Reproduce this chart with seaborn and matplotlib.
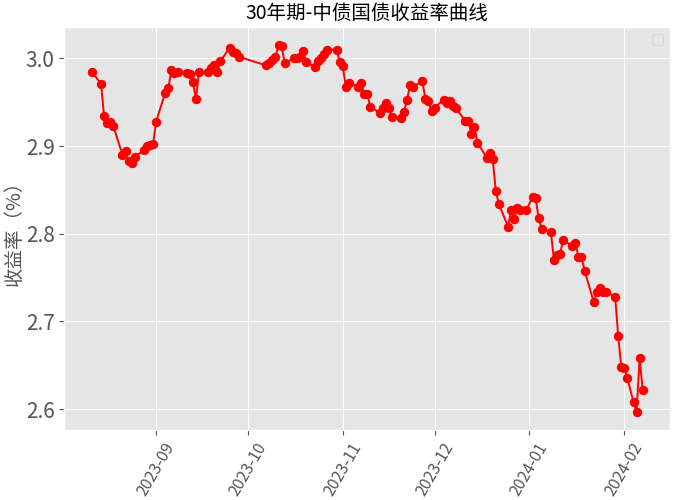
import pandas as pd
import matplotlib
matplotlib.use('Agg')
import matplotlib.pyplot as plt
import matplotlib.dates as mdates
import seaborn as sns

# 30年期国债收益率
dates = [
    '2023-08-11', '2023-08-14', '2023-08-15', '2023-08-16', '2023-08-17', '2023-08-18',
    '2023-08-21', '2023-08-22', '2023-08-23', '2023-08-24', '2023-08-25',
    '2023-08-28', '2023-08-29', '2023-08-30', '2023-08-31', '2023-09-01',
    '2023-09-04', '2023-09-05', '2023-09-06', '2023-09-07', '2023-09-08',
    '2023-09-11', '2023-09-12', '2023-09-13', '2023-09-14', '2023-09-15',
    '2023-09-18', '2023-09-19', '2023-09-20', '2023-09-21', '2023-09-22',
    '2023-09-25', '2023-09-26', '2023-09-27', '2023-09-28',
    '2023-10-07', '2023-10-08', '2023-10-09', '2023-10-10', '2023-10-11', '2023-10-12', '2023-10-13',
    '2023-10-16', '2023-10-17', '2023-10-18', '2023-10-19', '2023-10-20',
    '2023-10-23', '2023-10-24', '2023-10-25', '2023-10-26', '2023-10-27',
    '2023-10-30', '2023-10-31', '2023-11-01', '2023-11-02', '2023-11-03',
    '2023-11-06', '2023-11-07', '2023-11-08', '2023-11-09', '2023-11-10',
    '2023-11-13', '2023-11-14', '2023-11-15', '2023-11-16', '2023-11-17',
    '2023-11-20', '2023-11-21', '2023-11-22', '2023-11-23', '2023-11-24',
    '2023-11-27', '2023-11-28', '2023-11-29', '2023-11-30', '2023-12-01',
    '2023-12-04', '2023-12-05', '2023-12-06', '2023-12-07', '2023-12-08',
    '2023-12-11', '2023-12-12', '2023-12-13', '2023-12-14', '2023-12-15',
    '2023-12-18', '2023-12-19', '2023-12-20', '2023-12-21', '2023-12-22',
    '2023-12-25', '2023-12-26', '2023-12-27', '2023-12-28', '2023-12-29', '2023-12-31',
    '2024-01-02', '2024-01-03', '2024-01-04', '2024-01-05',
    '2024-01-08', '2024-01-09', '2024-01-10', '2024-01-11', '2024-01-12',
    '2024-01-15', '2024-01-16', '2024-01-17', '2024-01-18', '2024-01-19',
    '2024-01-22', '2024-01-23', '2024-01-24', '2024-01-25', '2024-01-26',
    '2024-01-29', '2024-01-30', '2024-01-31', '2024-02-01', '2024-02-02',
    '2024-02-04', '2024-02-05', '2024-02-06', '2024-02-07',
]
yields = [
    2.985, 2.971, 2.934, 2.926, 2.928, 2.923,
    2.890, 2.894, 2.883, 2.881, 2.888,
    2.895, 2.900, 2.901, 2.902, 2.928,
    2.961, 2.966, 2.987, 2.983, 2.985,
    2.983, 2.982, 2.973, 2.954, 2.984,
    2.984, 2.989, 2.992, 2.984, 2.997,
    3.012, 3.007, 3.006, 3.002,
    2.992, 2.995, 2.998, 3.002, 3.015, 3.014, 2.995,
    3.000, 3.001, 3.002, 3.008, 2.996,
    2.990, 2.997, 3.001, 3.005, 3.010,
    3.010, 2.996, 2.991, 2.967, 2.972,
    2.968, 2.972, 2.959, 2.959, 2.945,
    2.938, 2.944, 2.949, 2.944, 2.933,
    2.932, 2.939, 2.953, 2.970, 2.968,
    2.974, 2.954, 2.952, 2.940, 2.944,
    2.953, 2.949, 2.951, 2.946, 2.943,
    2.929, 2.929, 2.914, 2.922, 2.904,
    2.887, 2.892, 2.885, 2.849, 2.834,
    2.808, 2.827, 2.817, 2.829, 2.827, 2.827,
    2.842, 2.841, 2.818, 2.805,
    2.802, 2.770, 2.776, 2.777, 2.793,
    2.786, 2.790, 2.774, 2.774, 2.758,
    2.722, 2.733, 2.738, 2.733, 2.734,
    2.728, 2.683, 2.648, 2.647, 2.635,
    2.608, 2.597, 2.658, 2.622,
]

df = pd.DataFrame({'date': pd.to_datetime(dates), 'yield': yields})

plt.style.use('ggplot')
plt.rcParams['font.family'] = ['Noto Sans CJK SC', 'DejaVu Sans']
plt.rcParams['axes.unicode_minus'] = False

fig, ax = plt.subplots(figsize=(6.77, 5.0), dpi=100)
sns.lineplot(data=df, x='date', y='yield', ax=ax, color='red', marker='o',
             markersize=6, markeredgecolor='red', linewidth=1.4)

ax.set_title('30年期-中债国债收益率曲线', fontsize=14, color='black')
ax.set_xlabel('')
ax.set_ylabel('收益率（%）', fontsize=14, color='#555555', labelpad=1)
ax.xaxis.set_major_locator(mdates.MonthLocator())
ax.xaxis.set_major_formatter(mdates.DateFormatter('%Y-%m'))
ax.tick_params(axis='x', labelsize=11.5, rotation=60)
ax.tick_params(axis='y', labelsize=15)
ax.legend(handles=[], loc='upper right')

fig.subplots_adjust(left=0.095, right=0.99, top=0.946, bottom=0.14)
fig.savefig('out.png', dpi=100)
